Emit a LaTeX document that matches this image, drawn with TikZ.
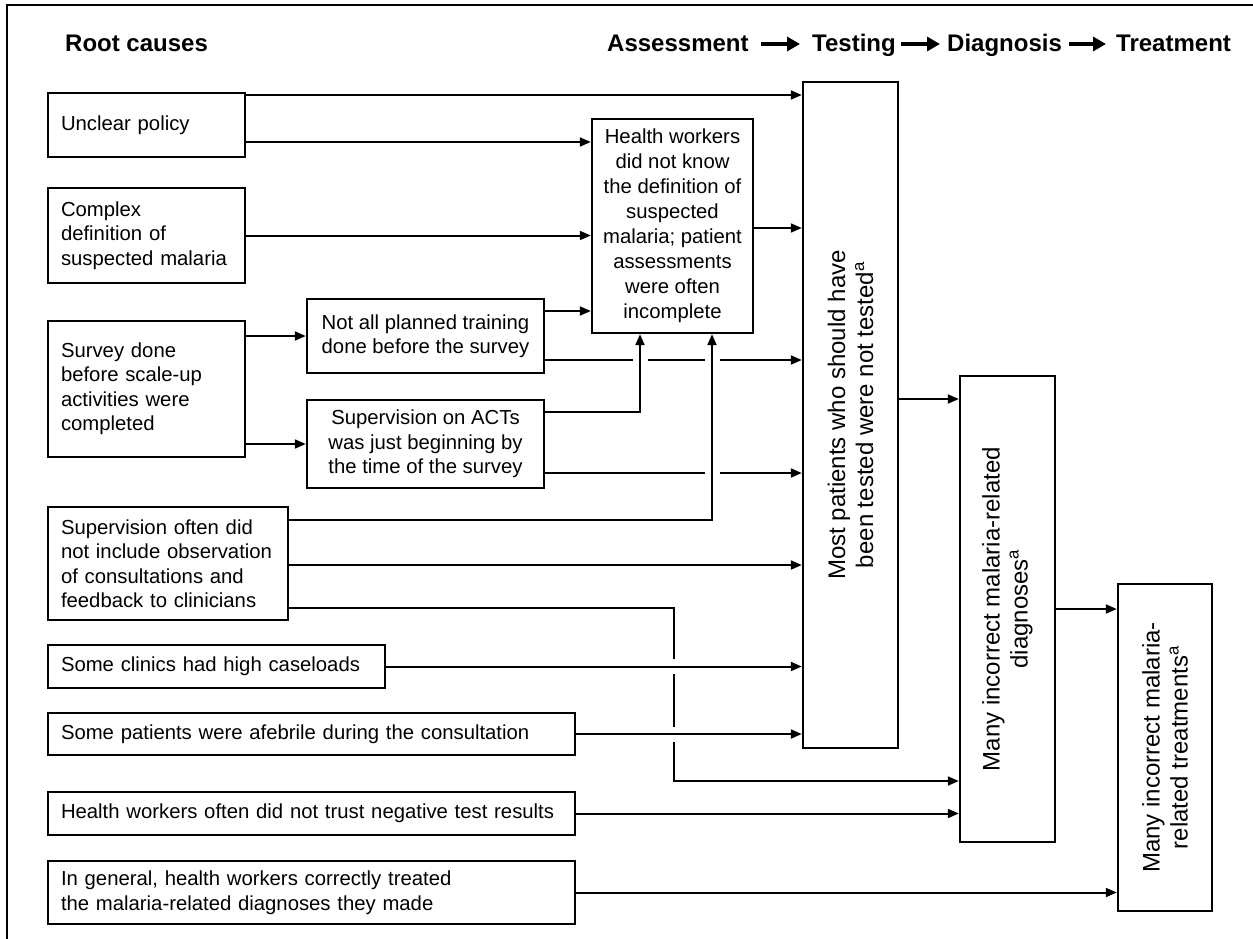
\documentclass[tikz,border=0pt]{standalone}
\usepackage{fontspec}
\setmainfont{Liberation Sans}
\usetikzlibrary{arrows.meta}

\newcommand{\bodytext}{\fontsize{20.3}{24.5}\selectfont}
\newcommand{\hwtext}{\fontsize{20.3}{25}\selectfont}
\newcommand{\talltxt}{\fontsize{24}{28}\selectfont}
\newcommand{\headtxt}{\fontsize{24}{28}\selectfont\bfseries}

\begin{document}
\begin{tikzpicture}[x=1pt, y=-1pt,
  box/.style={draw, line width=2.4pt, inner ysep=0pt, font=\bodytext},
  leftbox/.style={box, inner xsep=13pt, align=left},
  midbox/.style={box, inner xsep=4pt, align=center},
  tallbox/.style={draw, line width=2.4pt},
  talltext/.style={rotate=90, align=center, font=\talltxt, inner sep=0pt},
  hdr/.style={font=\headtxt, inner sep=0pt, anchor=base west},
  conn/.style={line width=2pt, -{Triangle[length=11pt,width=9pt]}},
  bridge/.style={preaction={draw=white, line width=15pt, shorten <=12pt, shorten >=12pt, -}},
  hdrarrow/.style={line width=4pt, -{Triangle[length=13pt,width=14pt]}},
  frame/.style={line width=2.4pt}
]
\useasboundingbox (0,0) rectangle (1253,939);

% outer frame
\draw[frame] (7,939) -- (7,5) -- (1253,5);

% column headings
\node[hdr] (hRoot) at (65,52) {Root causes};
\node[hdr] (hAssess) at (607,52) {Assessment};
\node[hdr] (hTest) at (812,52) {Testing};
\node[hdr] (hDiag) at (947,52) {Diagnosis};
\node[hdr] (hTreat) at (1116,52) {Treatment};
\draw[hdrarrow, shorten <=12pt, shorten >=12pt] ([yshift=8pt]hAssess.base east) -- ([yshift=8pt]hTest.base west);
\draw[hdrarrow, shorten <=5pt, shorten >=7pt] ([yshift=8pt]hTest.base east) -- ([yshift=8pt]hDiag.base west);
\draw[hdrarrow, shorten <=7pt, shorten >=10pt] ([yshift=8pt]hDiag.base east) -- ([yshift=8pt]hTreat.base west);

% root causes
\node[leftbox, text width=171pt, minimum height=64pt] (unclear) at (146.5,125) {Unclear policy};
\node[leftbox, text width=171pt, minimum height=95pt] (complex) at (146.5,235.5) {Complex\\definition of\\suspected malaria};
\node[leftbox, text width=171pt, minimum height=136pt] (survey) at (146.5,389) {Survey done\\before scale-up\\activities were\\completed};
\node[leftbox, text width=214pt, minimum height=113pt] (sup) at (168,563.5) {Supervision often did\\not include observation\\of consultations and\\feedback to clinicians};
\node[leftbox, text width=311pt, minimum height=43pt] (clinics) at (216.5,666.5) {Some clinics had high caseloads};
\node[leftbox, text width=501pt, minimum height=42pt] (afebrile) at (311.5,734) {Some patients were afebrile during the consultation};
\node[leftbox, text width=501pt, minimum height=43pt] (trust) at (311.5,813.5) {Health workers often did not trust negative test results};
\node[leftbox, text width=501pt, minimum height=63pt] (general) at (311.5,892.5) {In general, health workers correctly treated\\the malaria-related diagnoses they made};

% intermediate causes
\node[midbox, minimum width=237pt, minimum height=74pt] (training) at (425.5,336) {Not all planned training\\done before the survey};
\node[midbox, minimum width=237pt, minimum height=88pt] (act) at (425.5,444) {Supervision on ACTs\\was just beginning by\\the time of the survey};
\node[midbox, font=\hwtext, minimum width=161pt, minimum height=214pt] (hw) at (672.5,226) {Health workers\\did not know\\the definition of\\suspected\\malaria; patient\\assessments\\were often\\incomplete};

% outcomes
\node[tallbox, minimum width=95pt, minimum height=666pt] (mp) at (850.5,415) {};
\node[talltext] (mpText) at (mp.center) {Most patients who should have\\been tested were not tested\textsuperscript{a}};
\node[tallbox, minimum width=95pt, minimum height=466pt] (diag) at (1007.5,609) {};
\node[talltext] (diagText) at (diag.center) {Many incorrect malaria-related\\diagnoses\textsuperscript{a}};
\node[tallbox, minimum width=94pt, minimum height=327pt] (treat) at (1165,747.5) {};
\node[talltext] (treatText) at (treat.center) {Many incorrect malaria-\\related treatments\textsuperscript{a}};

% connectors
\draw[conn] (unclear.east |- 0,95) -- (mp.west |- 0,95);
\draw[conn] (unclear.east |- 0,142) -- (hw.west |- 0,142);
\draw[conn] (complex.east) -- (hw.west |- complex.east);
\draw[conn] (survey.east |- training.west) -- (training.west);
\draw[conn] (survey.east |- act.west) -- (act.west);
\draw[conn] (training.east |- 0,311) -- (hw.west |- 0,311);
\draw[conn] (hw.east |- 0,228) -- (mp.west |- 0,228);
\draw[conn] (training.east |- 0,360) -- (mp.west |- 0,360);
\draw[conn] (act.east |- 0,473) -- (mp.west |- 0,473);
\coordinate (supBend) at (674,781);
\draw[conn] (sup.east |- 0,608) -| (supBend) -- (diag.west |- supBend);
\draw[conn] (sup.east |- 0,565) -- (mp.west |- 0,565);

% connectors that pass over others
\draw[conn, bridge] (act.east |- 0,412) -| (640,0 |- hw.south);
\draw[conn, bridge] (sup.east |- 0,520) -| (712,0 |- hw.south);
\draw[conn, bridge] (clinics.east) -- (mp.west |- clinics.east);
\draw[conn, bridge] (afebrile.east) -- (mp.west |- afebrile.east);

\draw[conn] (trust.east) -- (diag.west |- trust.east);
\draw[conn] (mp.east |- 0,399) -- (diag.west |- 0,399);
\draw[conn] (diag.east) -- (treat.west |- diag.east);
\draw[conn] (general.east) -- (treat.west |- general.east);
\end{tikzpicture}
\end{document}
